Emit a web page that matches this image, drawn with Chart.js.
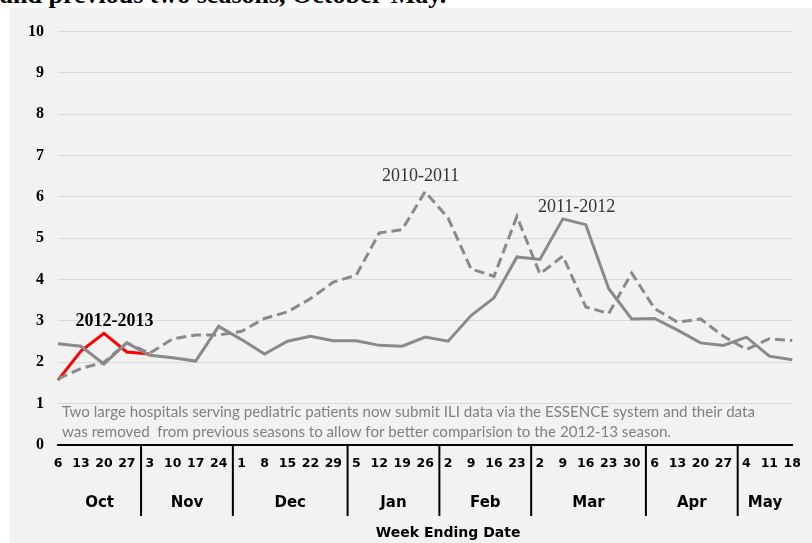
<!DOCTYPE html>
<html><head><meta charset="utf-8">
<script src="https://cdn.jsdelivr.net/npm/chart.js@4.4.0/dist/chart.umd.min.js"></script>
<style>
html,body{margin:0;padding:0;background:#fff;width:812px;height:543px;overflow:hidden;}
#title{position:absolute;left:0;top:-18px;font:bold 26px "Liberation Serif";line-height:26px;white-space:nowrap;color:#000;}
#box{position:absolute;left:9px;top:8px;width:803px;height:535px;background:#f2f2f2;}
canvas{display:block;}
</style></head><body>
<div id="title">and previous two seasons, October-May.</div>
<div id="box"><canvas id="c" width="803" height="535" style="width:803px;height:535px"></canvas></div>
<script>
const weekLabels = ['6','13','20','27','3','10','17','24','1','8','15','22','29','5','12','19','26','2','9','16','23','2','9','16','23','30','6','13','20','27','4','11','18'];
const monthLabels = ['Oct','Nov','Dec','Jan','Feb','Mar','Apr','May'];
const monthWeekCounts = [4,4,5,4,4,5,4,3];
const season1011 = [1.60,1.85,2.00,2.47,2.22,2.57,2.66,2.66,2.75,3.06,3.22,3.54,3.94,4.11,5.13,5.21,6.13,5.49,4.26,4.08,5.53,4.14,4.57,3.34,3.18,4.16,3.30,2.97,3.05,2.63,2.31,2.57,2.53];
const season1112 = [2.45,2.39,1.96,2.47,2.17,2.11,2.03,2.87,2.55,2.20,2.51,2.63,2.52,2.52,2.41,2.39,2.61,2.51,3.13,3.56,4.55,4.49,5.47,5.33,3.78,3.05,3.06,2.78,2.47,2.41,2.61,2.15,2.06];
const season1213 = [1.57,2.27,2.70,2.25,2.20];
const yTicks = [0,1,2,3,4,5,6,7,8,9,10];
const footnoteLines = ['Two large hospitals serving pediatric patients now submit ILI data via the ESSENCE system and their data','was removed  from previous seasons to allow for better comparision to the 2012-13 season.'];
const seasonNotes = [
  {text:'2010-2011', idx:15.8, val:6.49, bold:false},
  {text:'2011-2012', idx:22.6, val:5.75, bold:false},
  {text:'2012-2013', idx:2.46, val:3.0, bold:true}
];

const decor = {
  id:'decor',
  afterDraw(chart){
    const ctx = chart.ctx, xs = chart.scales.x, ys = chart.scales.y, a = chart.chartArea;
    ctx.save();
    let cum = 0; const bounds = [a.left];
    monthWeekCounts.forEach((n,k)=>{
      cum += n;
      if (k < monthWeekCounts.length-1){
        const p0 = xs.getPixelForValue(cum-1), p1 = xs.getPixelForValue(cum);
        const bx = p0 + 0.62*(p1-p0);
        bounds.push(bx);
        ctx.strokeStyle='#000'; ctx.lineWidth=2;
        ctx.beginPath(); ctx.moveTo(bx, a.bottom); ctx.lineTo(bx, a.bottom+71); ctx.stroke();
      }
    });
    bounds.push(a.right);
    ctx.fillStyle='#000'; ctx.textAlign='center'; ctx.textBaseline='middle';
    ctx.font='bold 15px "DejaVu Sans"';
    monthLabels.forEach((m,k)=>{
      ctx.fillText(m, (bounds[k]+bounds[k+1])/2, a.bottom+58);
    });
    ctx.font='bold 14px "DejaVu Sans"';
    ctx.fillText('Week Ending Date', xs.getPixelForValue(17), a.bottom+88);
    ctx.fillStyle='#808080'; ctx.textAlign='left';
    ctx.font='15.1px Lato';
    ctx.fillText(footnoteLines[0], a.left+4, ys.getPixelForValue(0.79));
    ctx.fillText(footnoteLines[1], a.left+4, ys.getPixelForValue(0.31));
    ctx.textAlign='center';
    seasonNotes.forEach(s=>{
      ctx.font = (s.bold?'bold ':'') + '18px "Liberation Serif"';
      ctx.fillStyle = s.bold ? '#000' : '#333';
      ctx.fillText(s.text, xs.getPixelForValue(0) + s.idx*(xs.getPixelForValue(1)-xs.getPixelForValue(0)), ys.getPixelForValue(s.val));
    });
    ctx.restore();
  }
};

new Chart(document.getElementById('c'), {
  type:'line',
  data:{labels:weekLabels, datasets:[
    {label:'2010-2011', data:season1011, borderColor:'#8a8a8a', borderWidth:3, borderDash:[10,5], pointRadius:0, tension:0, fill:false},
    {label:'2011-2012', data:season1112, borderColor:'#8a8a8a', borderWidth:3, pointRadius:0, tension:0, fill:false},
    {label:'2012-2013', data:season1213, borderColor:'#ff0000', borderWidth:3, pointRadius:0, tension:0, fill:false}
  ]},
  options:{
    responsive:false, animation:false, devicePixelRatio:1,
    layout:{autoPadding:false, padding:{left:0,right:8.3,top:12.4,bottom:0}},
    plugins:{legend:{display:false}, tooltip:{enabled:false}},
    scales:{
      x:{offset:false, grid:{display:false, drawTicks:false}, border:{color:'#000', width:2},
         ticks:{autoSkip:false, maxRotation:0, color:'#000', font:{family:'DejaVu Sans', weight:'bold', size:12.5}, padding:11},
         afterFit(s){ s.height = 98; }},
      y:{min:0, max:10, afterBuildTicks(s){ s.ticks = yTicks.map(v=>({value:v})); },
         ticks:{color:'#000', font:{family:'Liberation Serif', weight:'bold', size:16}, padding:14},
         grid:{color:'#d9d9d9', drawTicks:false, lineWidth:1}, border:{display:false},
         afterFit(s){ s.width = 49; }}
    }
  },
  plugins:[decor]
});
</script>
</body></html>
